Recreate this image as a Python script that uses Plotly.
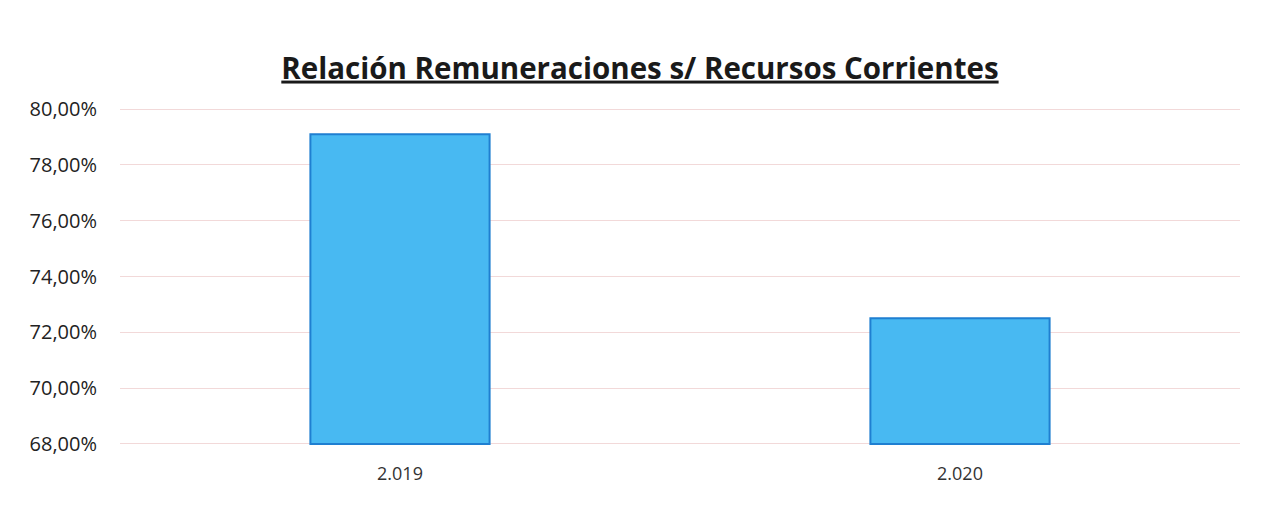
import plotly.graph_objects as go

categories = ["2.019", "2.020"]
values = [79.1, 72.5]
tick_vals = [68, 70, 72, 74, 76, 78, 80]
tick_text = ["68,00%", "70,00%", "72,00%", "74,00%", "76,00%", "78,00%", "80,00%"]
title_text = "<b>Relación Remuneraciones s/ Recursos Corrientes</b>"
base_value = 68

fig = go.Figure()
fig.add_trace(go.Bar(
    x=categories, y=[v - base_value for v in values], base=base_value,
    marker=dict(color="#48b9f2", line=dict(color="#1f7fd1", width=2)),
    width=0.32,
))

fig.update_layout(
    width=1269, height=515,
    margin=dict(l=112, r=37, t=100, b=78),
    paper_bgcolor="white", plot_bgcolor="white",
    font=dict(family="Open Sans", color="#333333"),
    title=dict(text=title_text, x=0.498, xanchor="center", y=0.883, yanchor="middle",
               font=dict(family="Open Sans", size=29.5, color="#1a1a1a", lineposition="under")),
    showlegend=False,
    xaxis=dict(showline=False, tickfont=dict(size=18, color="#333333"), ticks="",
               showgrid=False, automargin=False, ticklabelstandoff=16),
    yaxis=dict(range=[67.96, 80.04], tickvals=tick_vals, ticktext=tick_text,
               tickfont=dict(size=20, color="#222222"), gridcolor="#f2d9d9",
               gridwidth=1, zeroline=False, showline=False, ticks="",
               automargin=False, ticklabelstandoff=22),
)
fig.write_html("out.html")
